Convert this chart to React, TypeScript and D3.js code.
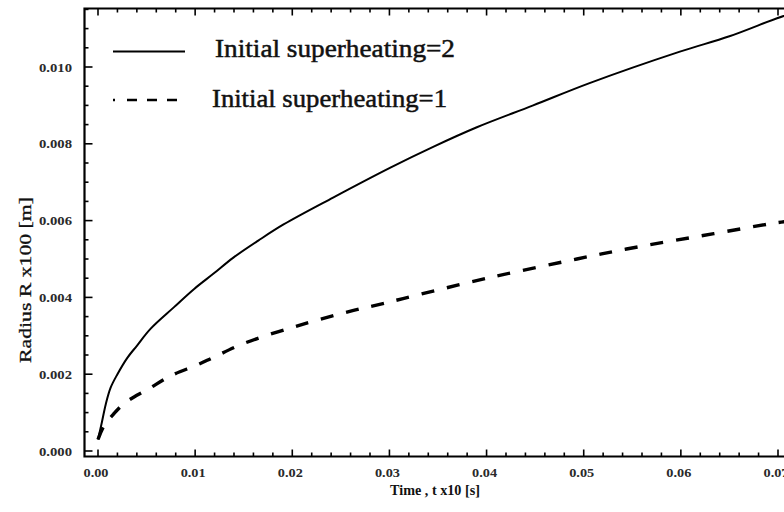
import React from "react";
import * as d3 from "d3";

// Series (time t x10 [s], radius R x100 [m])
const time2: number[] = [0, 0.0004, 0.0008, 0.0013, 0.002, 0.003, 0.004, 0.0054, 0.0078, 0.0099, 0.0119, 0.0139, 0.0165, 0.0191, 0.0242, 0.0301, 0.0345, 0.039, 0.0448, 0.0506, 0.0599, 0.065, 0.0699, 0.0715];
const radius2: number[] = [0.0003, 0.00075, 0.00122, 0.00165, 0.002, 0.00242, 0.00274, 0.00318, 0.00374, 0.00422, 0.00462, 0.00503, 0.00548, 0.0059, 0.0066, 0.00738, 0.00792, 0.00843, 0.009, 0.00958, 0.0104, 0.0108, 0.01127, 0.0114];

const time1: number[] = [0, 0.0006, 0.0016, 0.0027, 0.004, 0.0051, 0.0075, 0.0102, 0.0119, 0.015, 0.0208, 0.0263, 0.0297, 0.0314, 0.0404, 0.0493, 0.0544, 0.0634, 0.0695, 0.0715];
const radius1: number[] = [0.0003, 0.00065, 0.00096, 0.00124, 0.00145, 0.0016, 0.00196, 0.00224, 0.00244, 0.0028, 0.00328, 0.00366, 0.00386, 0.00397, 0.00452, 0.005, 0.00526, 0.00566, 0.00593, 0.006];

const xTickValues: number[] = [0, 0.01, 0.02, 0.03, 0.04, 0.05, 0.06, 0.07];
const xTickLabels: string[] = ["0.00", "0.01", "0.02", "0.03", "0.04", "0.05", "0.06", "0.07"];
const yTickValues: number[] = [0, 0.002, 0.004, 0.006, 0.008, 0.01];
const yTickLabels: string[] = ["0.000", "0.002", "0.004", "0.006", "0.008", "0.010"];

const legendLabels: string[] = ["Initial superheating=2", "Initial superheating=1"];
const xTitle = "Time , t x10  [s]";
const yTitle = "Radius R x100 [m]";

const W = 784;
const H = 512;
const frameLeft = 84.5;
const frameTop = 8.5;
const frameBottom = 456.5;
const frameRight = 800;

const FONT = "'Liberation Serif', 'DejaVu Serif', serif";

export default function App() {
  const x = d3.scaleLinear().domain([0, 0.07]).range([98, 778]);
  const y = d3.scaleLinear().domain([0, 0.01]).range([451, 67]);

  const line = d3
    .line<[number, number]>()
    .x((d) => x(d[0]))
    .y((d) => y(d[1]))
    .curve(d3.curveCatmullRom.alpha(0.5));

  const s2 = time2.map((t, i) => [t, radius2[i]] as [number, number]);
  const s1 = time1.map((t, i) => [t, radius1[i]] as [number, number]);

  const xMinor = d3.range(0, 0.0721, 0.002).map((v) => +v.toFixed(4));
  const yMinor = d3.range(0, 0.0116, 0.0005).map((v) => +v.toFixed(5));

  const isMajorX = (v: number) => Math.abs(v * 100 - Math.round(v * 100)) < 1e-6;
  const isMajorY = (v: number) => Math.abs(v * 500 - Math.round(v * 500)) < 1e-6;

  return (
    <svg
      width={W}
      height={H}
      viewBox={`0 0 ${W} ${H}`}
      style={{ position: "fixed", left: 0, top: 0, background: "#fff" }}
    >
      <defs>
        <clipPath id="plotclip">
          <rect x={frameLeft} y={frameTop} width={frameRight - frameLeft} height={frameBottom - frameTop} />
        </clipPath>
      </defs>
      <rect x={0} y={0} width={W} height={H} fill="#fff" />

      {/* ticks bottom & top */}
      {xMinor.map((v, i) => {
        const len = isMajorX(v) ? 7 : 4;
        return (
          <g key={"xt" + i} stroke="#000" strokeWidth={1.6}>
            <line x1={x(v)} x2={x(v)} y1={frameBottom} y2={frameBottom - len} />
            <line x1={x(v)} x2={x(v)} y1={frameTop} y2={frameTop + len} />
          </g>
        );
      })}
      {yMinor.map((v, i) => {
        const len = isMajorY(v) ? 8 : 4;
        return (
          <line
            key={"yt" + i}
            x1={frameLeft}
            x2={frameLeft + len}
            y1={y(v)}
            y2={y(v)}
            stroke="#000"
            strokeWidth={1.6}
          />
        );
      })}

      {/* frame */}
      <path
        d={`M${frameRight},${frameTop}H${frameLeft}V${frameBottom}H${frameRight}`}
        fill="none"
        stroke="#000"
        strokeWidth={2.2}
      />

      {/* tick labels */}
      {xTickValues.map((v, i) => (
        <text
          key={"xl" + i}
          x={x(v) - 2}
          y={477}
          textAnchor="middle"
          fontFamily={FONT}
          fontSize={12}
          fontWeight="bold"
          textLength={25}
          lengthAdjust="spacingAndGlyphs"
          fill="#2a2a2a"
        >
          {xTickLabels[i]}
        </text>
      ))}
      {yTickValues.map((v, i) => (
        <text
          key={"yl" + i}
          x={72}
          y={y(v) + 4.5}
          textAnchor="end"
          fontFamily={FONT}
          fontSize={12.5}
          fontWeight="bold"
          textLength={33}
          lengthAdjust="spacingAndGlyphs"
          fill="#2a2a2a"
        >
          {yTickLabels[i]}
        </text>
      ))}

      {/* axis titles */}
      <text
        x={435}
        y={495}
        textAnchor="middle"
        fontFamily={FONT}
        fontSize={14}
        fontWeight="bold"
        textLength={90}
        lengthAdjust="spacingAndGlyphs"
        fill="#111"
      >
        {xTitle}
      </text>
      <text
        transform={`translate(31,280) rotate(-90)`}
        textAnchor="middle"
        fontFamily={FONT}
        fontSize={17}
        textLength={166}
        lengthAdjust="spacingAndGlyphs"
        fill="#111"
        stroke="#111"
        strokeWidth={0.3}
      >
        {yTitle}
      </text>

      {/* curves */}
      <g clipPath="url(#plotclip)">
        <path d={line(s2) || ""} fill="none" stroke="#000" strokeWidth={2} strokeLinejoin="round" />
        <path
          d={line(s1) || ""}
          fill="none"
          stroke="#000"
          strokeWidth={3.4}
          strokeDasharray="13 13"
          strokeLinecap="butt"
        />
      </g>

      {/* legend */}
      <line x1={113} x2={185} y1={51.5} y2={51.5} stroke="#000" strokeWidth={2} />
      <text
        x={215}
        y={57}
        fontFamily={FONT}
        fontSize={25}
        textLength={240}
        lengthAdjust="spacingAndGlyphs"
        fill="#111"
        stroke="#111"
        strokeWidth={0.5}
      >
        {legendLabels[0]}
      </text>
      <line
        x1={113}
        x2={177}
        y1={100}
        y2={100}
        stroke="#000"
        strokeWidth={2.6}
        strokeDasharray="2 12 10 10 10 10 10 10"
      />
      <text
        x={212}
        y={107}
        fontFamily={FONT}
        fontSize={25}
        textLength={235}
        lengthAdjust="spacingAndGlyphs"
        fill="#111"
        stroke="#111"
        strokeWidth={0.5}
      >
        {legendLabels[1]}
      </text>
    </svg>
  );
}
